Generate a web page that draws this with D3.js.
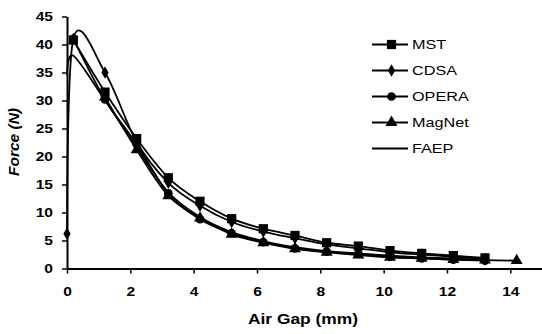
<!DOCTYPE html>
<html>
<head>
<meta charset="utf-8">
<script src="https://cdn.jsdelivr.net/npm/d3@7"></script>
<style>
  html, body { margin: 0; padding: 0; background: #fff; }
  svg text { font-family: "Liberation Sans", Arial, sans-serif; fill: #000; }
  .wide { transform-box: fill-box; transform: scaleX(1.2); }
</style>
</head>
<body>
<div class="ForceChart"></div>
<script>
// air gap positions (mm)
const gapMain = [0.2, 1.2, 2.2, 3.2, 4.2, 5.2, 6.2, 7.2, 8.2, 9.2, 10.2, 11.2, 12.2, 13.2];
const gapCDSA = [0, 0.2, 1.2, 2.2, 3.2, 4.2, 5.2, 6.2, 7.2, 8.2, 9.2, 10.2, 11.2, 12.2, 13.2];
const gapMagNet = [1.2, 2.2, 3.2, 4.2, 5.2, 6.2, 7.2, 8.2, 9.2, 10.2, 11.2, 12.2, 13.2, 14.2];
const gapFAEP = [0, 0.2, 1.2, 2.2, 3.2, 4.2, 5.2, 6.2, 7.2, 8.2, 9.2, 10.2, 11.2, 12.2, 13.2];

// force values (N)
const forceMST = [40.8, 31.5, 23.2, 16.2, 12.0, 8.9, 7.1, 5.9, 4.6, 4.0, 3.2, 2.7, 2.3, 1.9];
const forceCDSA = [6.2, 41.0, 35.0, 22.6, 15.3, 11.2, 8.3, 6.6, 5.4, 4.3, 3.6, 2.9, 2.5, 2.1, 1.7];
const forceOPERA = [41.0, 30.2, 22.2, 13.4, 8.8, 6.3, 4.7, 3.6, 3.0, 2.6, 2.1, 1.8, 1.6, 1.4];
const forceMagNet = [30.6, 21.2, 13.0, 9.0, 6.1, 4.6, 3.5, 2.9, 2.4, 2.0, 1.8, 1.6, 1.5, 1.4];
const forceFAEP = [34.5, 38.0, 30.0, 21.6, 13.6, 9.2, 6.5, 4.9, 3.8, 3.1, 2.7, 2.3, 2.0, 1.8, 1.5];

const seriesNames = ["MST", "CDSA", "OPERA", "MagNet", "FAEP"];
const xTicks = [0, 2, 4, 6, 8, 10, 12, 14];
const yTicks = [0, 5, 10, 15, 20, 25, 30, 35, 40, 45];

const series = [
  { name: "MST", gap: gapMain, force: forceMST, marker: "square" },
  { name: "CDSA", gap: gapCDSA, force: forceCDSA, marker: "diamond" },
  { name: "OPERA", gap: gapMain, force: forceOPERA, marker: "circle" },
  { name: "MagNet", gap: gapMagNet, force: forceMagNet, marker: "triangle" },
  { name: "FAEP", gap: gapFAEP, force: forceFAEP, marker: null }
];

const W = 542, H = 334;
const margin = { top: 16.5, right: 0, bottom: 65.5, left: 67 };
const width = W - margin.left - margin.right,
      height = H - margin.top - margin.bottom;

const svg = d3.select(".ForceChart")
  .append("svg")
  .attr("width", W)
  .attr("height", H)
  .style("display", "block")
  .style("background", "#fff");

const g = svg.append("g")
  .attr("transform", "translate(" + margin.left + "," + margin.top + ")");

const x = d3.scaleLinear().domain([0, 15]).range([0, width]);
const y = d3.scaleLinear().domain([0, 45]).range([height, 0]);

const symbolOf = {
  square: d3.symbol().type(d3.symbolSquare).size(85),
  diamond: d3.symbol().type(d3.symbolDiamond).size(45),
  circle: d3.symbol().type(d3.symbolCircle).size(60),
  triangle: d3.symbol().type(d3.symbolTriangle).size(62)
};

// X axis
const xAxis = g.append("g")
  .attr("transform", "translate(0," + height + ")")
  .call(d3.axisBottom(x).tickValues(xTicks).tickSize(5).tickPadding(13).tickSizeOuter(0));
xAxis.select(".domain").attr("stroke", "#000").attr("stroke-width", 2);
xAxis.selectAll(".tick line").attr("stroke", "#000").attr("stroke-width", 1.5);
xAxis.selectAll("text")
  .attr("font-size", 13).attr("font-weight", "bold")
  .attr("class", "wide").style("transform-origin", "50% 50%");

// Y axis
const yAxis = g.append("g")
  .call(d3.axisLeft(y).tickValues(yTicks).tickSize(5).tickPadding(9).tickSizeOuter(0));
yAxis.select(".domain").attr("stroke", "#000").attr("stroke-width", 2);
yAxis.selectAll(".tick line").attr("stroke", "#000").attr("stroke-width", 1.5);
yAxis.selectAll("text")
  .attr("font-size", 13).attr("font-weight", "bold")
  .attr("class", "wide").style("transform-origin", "100% 50%");

// lines
const line = d3.line()
  .x(d => x(d[0]))
  .y(d => y(d[1]))
  .curve(d3.curveCatmullRom.alpha(0));

series.forEach(s => {
  const pts = s.gap.map((v, i) => [v, s.force[i]]);
  g.append("path")
    .datum(pts)
    .attr("fill", "none")
    .attr("stroke", "#000")
    .attr("stroke-width", 1.8)
    .attr("stroke-linejoin", "round")
    .attr("d", line);
});

series.forEach(s => {
  if (!s.marker) return;
  const pts = s.gap.map((v, i) => [v, s.force[i]]);
  g.selectAll(null)
    .data(pts)
    .enter().append("path")
    .attr("d", symbolOf[s.marker])
    .attr("transform", d => "translate(" + x(d[0]) + "," + y(d[1]) + ")")
    .attr("fill", "#000");
});

// axis titles
svg.append("text")
  .attr("x", 303).attr("y", 324)
  .attr("text-anchor", "middle")
  .attr("font-size", 14.5).attr("font-weight", "bold")
  .attr("class", "wide").style("transform-origin", "50% 50%")
  .text("Air Gap (mm)");

svg.append("text")
  .attr("transform", "translate(19,142) rotate(-90)")
  .attr("text-anchor", "middle")
  .attr("font-size", 15.5).attr("font-weight", "bold").attr("font-style", "italic")
  .text("Force (N)");

// legend
const legend = svg.append("g").attr("transform", "translate(372,44.5)");
series.forEach((s, i) => {
  const row = legend.append("g").attr("transform", "translate(0," + i * 26 + ")");
  row.append("line")
    .attr("x1", 0).attr("x2", 36).attr("y1", 0).attr("y2", 0)
    .attr("stroke", "#000").attr("stroke-width", 1.8);
  if (s.marker) {
    row.append("path")
      .attr("d", symbolOf[s.marker])
      .attr("transform", "translate(19.5,0)")
      .attr("fill", "#000");
  }
  row.append("text")
    .attr("x", 40).attr("y", 0).attr("dy", "0.36em")
    .attr("font-size", 13.5)
    .attr("class", "wide").style("transform-origin", "0% 50%")
    .text(seriesNames[i]);
});
</script>
</body>
</html>
